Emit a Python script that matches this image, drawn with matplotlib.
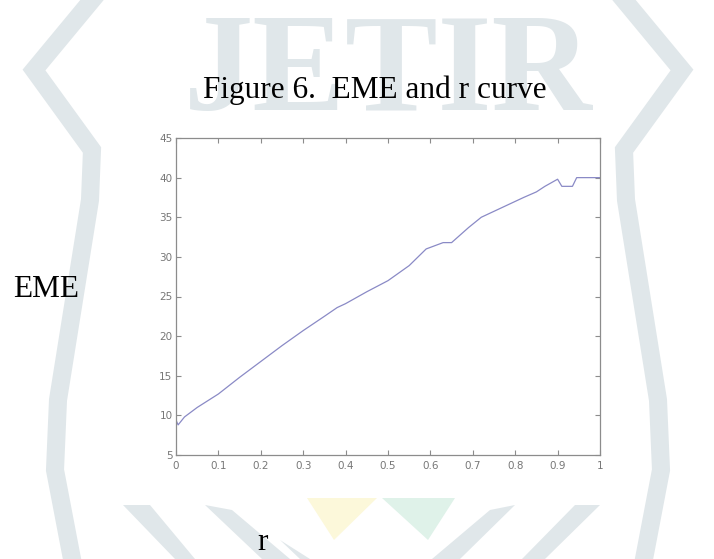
import matplotlib
matplotlib.use("Agg")
import matplotlib.pyplot as plt
from matplotlib.patches import Polygon, Rectangle

# EME values
r_vals = [0, 0.005, 0.02, 0.05, 0.1, 0.15, 0.2, 0.25, 0.3, 0.35, 0.38, 0.40,
          0.45, 0.5, 0.55, 0.59, 0.62, 0.63, 0.65, 0.69, 0.72, 0.76, 0.8,
          0.82, 0.85, 0.87, 0.9, 0.91, 0.935, 0.945, 1.0]
eme_vals = [9.4, 8.8, 9.8, 11.0, 12.7, 14.8, 16.8, 18.8, 20.7, 22.5, 23.6, 24.1,
            25.6, 27.0, 28.9, 31.0, 31.6, 31.8, 31.8, 33.7, 35.0, 36.0, 37.0,
            37.5, 38.2, 38.9, 39.8, 38.9, 38.9, 40.0, 40.0]
x_ticks = [0, 0.1, 0.2, 0.3, 0.4, 0.5, 0.6, 0.7, 0.8, 0.9, 1]
y_ticks = [5, 10, 15, 20, 25, 30, 35, 40, 45]

W, H = 714, 559
fig = plt.figure(figsize=(W / 100, H / 100), dpi=100)

# background watermark, drawn in pixel coordinates
bg = fig.add_axes([0, 0, 1, 1])
bg.set_xlim(0, W)
bg.set_ylim(H, 0)
bg.axis("off")
wm = "#e0e7ea"
bg.text(388, 110, "JETIR", fontsize=100, fontweight="bold", family="Liberation Serif",
        color=wm, ha="center", va="baseline")
left_band = [(92, 0), (34, 70), (92, 150), (90, 200), (58, 400), (55, 470), (72, 559)]
bg.plot([p[0] for p in left_band], [p[1] for p in left_band], color=wm, lw=13,
        solid_joinstyle="miter")
bg.plot([W + 2 - p[0] for p in left_band], [p[1] for p in left_band], color=wm, lw=13,
        solid_joinstyle="miter")
leaves = [
    [(123, 505), (175, 559), (195, 559), (150, 505)],
    [(205, 505), (262, 559), (290, 559), (232, 510)],
    [(280, 540), (300, 559), (310, 559)],
    [(600, 505), (545, 559), (522, 559), (575, 505)],
    [(515, 505), (460, 559), (432, 559), (490, 510)],
]
for pts in leaves:
    bg.add_patch(Polygon(pts, closed=True, color=wm, lw=0))
bg.add_patch(Polygon([(307, 498), (377, 498), (334, 540)], closed=True,
                     color="#fcf8da", lw=0))
bg.add_patch(Polygon([(382, 498), (455, 498), (428, 540)], closed=True,
                     color="#dff2e9", lw=0))
bg.add_patch(Rectangle((102, 112), 554, 386, color="white", lw=0))

# the chart itself
ax = fig.add_axes([176 / W, 1 - 455 / H, 424 / W, 317 / H])
ax.plot(r_vals, eme_vals, color="#8a8ac6", lw=0.9)
ax.set_xlim(0, 1)
ax.set_ylim(5, 45)
ax.set_xticks(x_ticks)
ax.set_xticklabels([f"{t:g}" for t in x_ticks])
ax.set_yticks(y_ticks)
for s in ax.spines.values():
    s.set_color("#8c8c8c")
    s.set_linewidth(0.9)
ax.tick_params(direction="in", length=3.5, width=0.8, color="#8c8c8c",
               labelsize=7.5, labelcolor="#777777", top=True, right=True)
ax.tick_params(axis="x", pad=4)
ax.tick_params(axis="y", pad=2.5)

serif = "Liberation Serif"
fig.text(375 / W, 1 - 98 / H, "Figure 6.  EME and r curve", family=serif,
         fontsize=22.5, ha="center", va="baseline")
fig.text(13 / W, 1 - 297 / H, "EME", family=serif, fontsize=22.5,
         ha="left", va="baseline")
fig.text(263 / W, 1 - 550 / H, "r", family=serif, fontsize=22.5,
         ha="center", va="baseline")

fig.savefig("out.png", dpi=100)
